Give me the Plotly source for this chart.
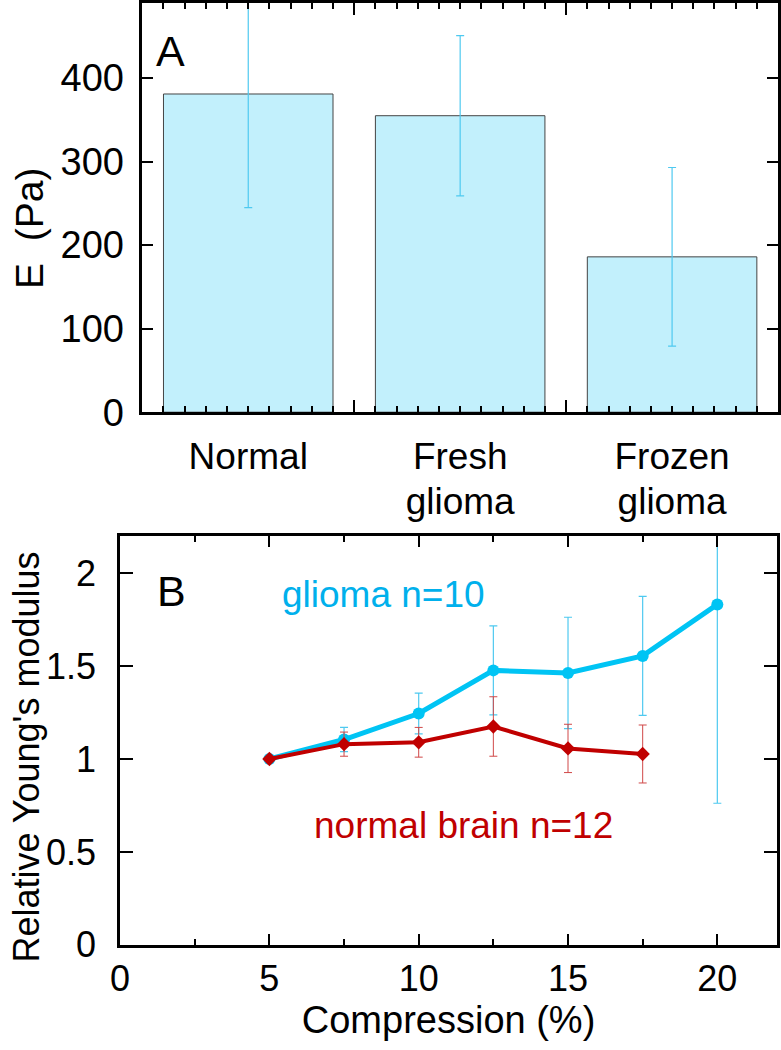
import plotly.graph_objects as go

# ---------------- data ----------------
categories = ["Normal", "Fresh glioma", "Frozen glioma"]
E_mean = [381, 355, 186]
E_err = [136, 96, 107]

compression_glioma = [5, 7.5, 10, 12.5, 15, 17.5, 20]
glioma_rel = [1.0, 1.105, 1.245, 1.477, 1.463, 1.555, 1.832]
glioma_err = [0.0, 0.065, 0.11, 0.24, 0.30, 0.32, 1.07]

compression_normal = [5, 7.5, 10, 12.5, 15, 17.5]
normal_rel = [1.0, 1.08, 1.09, 1.175, 1.057, 1.027]
normal_err = [0.0, 0.065, 0.08, 0.16, 0.13, 0.156]

W, H = 781, 1050
FONT = "Liberation Sans, Arial, sans-serif"
CYAN = "#00c4f4"
CYAN_ERR = "#4ec9f0"
RED = "#c00000"
RED_ERR = "#d04848"
BAR_FILL = "#c2f0fc"


def px(x):
    return x / W


def py(y):
    return 1 - y / H


fig = go.Figure()

xpos = list(range(len(categories)))
line1 = [c.split(" ")[0] for c in categories]
line2 = [" ".join(c.split(" ")[1:]) for c in categories]

fig.add_trace(go.Bar(
    x=xpos, y=E_mean, width=0.8,
    marker=dict(color=BAR_FILL, line=dict(color="#444444", width=1)),
    error_y=dict(type="data", array=E_err, color=CYAN_ERR, thickness=1.2, width=4),
    xaxis="x", yaxis="y", showlegend=False,
))
# invisible helper traces so the overlay axes (long ticks, second label line) get drawn
for ax in ("x3", "x4"):
    fig.add_trace(go.Scatter(x=xpos, y=E_mean, mode="markers", marker=dict(opacity=0),
                             hoverinfo="skip", showlegend=False, xaxis=ax, yaxis="y"))

fig.add_trace(go.Scatter(
    x=compression_glioma, y=glioma_rel, mode="lines+markers",
    line=dict(color=CYAN, width=5),
    marker=dict(symbol="circle", size=12, color=CYAN),
    error_y=dict(type="data", array=glioma_err, color=CYAN_ERR, thickness=1.2, width=4),
    xaxis="x2", yaxis="y2", showlegend=False,
))
fig.add_trace(go.Scatter(
    x=compression_normal, y=normal_rel, mode="lines+markers",
    line=dict(color=RED, width=4),
    marker=dict(symbol="diamond", size=11, color=RED),
    error_y=dict(type="data", array=normal_err, color=RED_ERR, thickness=1, width=4),
    xaxis="x2", yaxis="y2", showlegend=False,
))

axis_common = dict(showline=True, linewidth=2.5, linecolor="black", mirror="ticks",
                   showgrid=False, zeroline=False, tickcolor="black", tickwidth=2)

top_dom_x = [px(134), px(778)]
top_dom_y = [py(420), py(2)]
bot_dom_x = [px(111.5), px(777)]
bot_dom_y = [py(964), py(546.5)]

overlay_common = dict(overlaying="x", anchor="y", range=[-0.5, 2.5], domain=top_dom_x,
                      showline=False, showgrid=False, zeroline=False)

fig.update_layout(
    width=W, height=H,
    margin=dict(l=0, r=0, t=0, b=0),
    paper_bgcolor="white", plot_bgcolor="white",
    font=dict(family=FONT, color="black"),
    xaxis=dict(**axis_common, domain=top_dom_x, anchor="y", range=[-0.5, 2.5],
               tickmode="array", tickvals=xpos, ticktext=line1,
               ticks="inside", ticklen=6, tickfont=dict(size=37), ticklabelstandoff=10,
               minor=dict(dtick=0.1, tick0=-0.5, ticks="inside", ticklen=6,
                          tickcolor="black", tickwidth=2, showgrid=False)),
    xaxis3=dict(**overlay_common,
                tickmode="array", tickvals=[0.5, 1.5], ticks="inside", ticklen=12,
                tickwidth=2, tickcolor="black", mirror="ticks", showticklabels=False),
    xaxis4=dict(**overlay_common,
                tickmode="array", tickvals=xpos, ticktext=line2, ticks="",
                tickfont=dict(size=37), ticklabelstandoff=64),
    yaxis=dict(**axis_common, domain=top_dom_y, anchor="x", range=[0, 490],
               tickmode="linear", tick0=0, dtick=100, ticks="inside", ticklen=11,
               tickfont=dict(size=38), ticklabelstandoff=8),
    xaxis2=dict(**axis_common, domain=bot_dom_x, anchor="y2", range=[0, 22],
                tickmode="linear", tick0=0, dtick=5, ticks="inside", ticklen=11,
                tickfont=dict(size=36),
                minor=dict(dtick=2.5, tick0=0, ticks="inside", ticklen=6,
                           tickcolor="black", tickwidth=2, showgrid=False),
                title=dict(text="Compression (%)", font=dict(size=38), standoff=2)),
    yaxis2=dict(**axis_common, domain=bot_dom_y, anchor="x2", range=[0, 2.2],
                tickmode="linear", tick0=0, dtick=0.5, ticks="inside", ticklen=13,
                tickfont=dict(size=36), ticklabelstandoff=14),
    bargap=0.2,
)

annotations = [
    dict(text="A", x=px(146), y=py(51), xanchor="left", yanchor="middle",
         font=dict(size=43, color="black")),
    dict(text="B", x=px(147), y=py(603), xanchor="left", yanchor="middle",
         font=dict(size=43, color="black")),
    dict(text="glioma n=10", x=px(273), y=py(606), xanchor="left", yanchor="middle",
         font=dict(size=37, color="#00b0ec")),
    dict(text="normal brain n=12", x=px(306), y=py(842), xanchor="left", yanchor="middle",
         font=dict(size=37, color=RED)),
    dict(text="E  (Pa)", x=px(19), y=py(232), xanchor="center", yanchor="middle",
         textangle=-90, font=dict(size=39, color="black")),
    dict(text="Relative Young's modulus", x=px(17), y=py(772), xanchor="center",
         yanchor="middle", textangle=-90, font=dict(size=36, color="black")),
]
for a in annotations:
    a.update(xref="paper", yref="paper", showarrow=False)
fig.update_layout(annotations=annotations)

fig.write_html("out.html", config={"displayModeBar": False},
               post_script="document.body.style.margin='0';")
